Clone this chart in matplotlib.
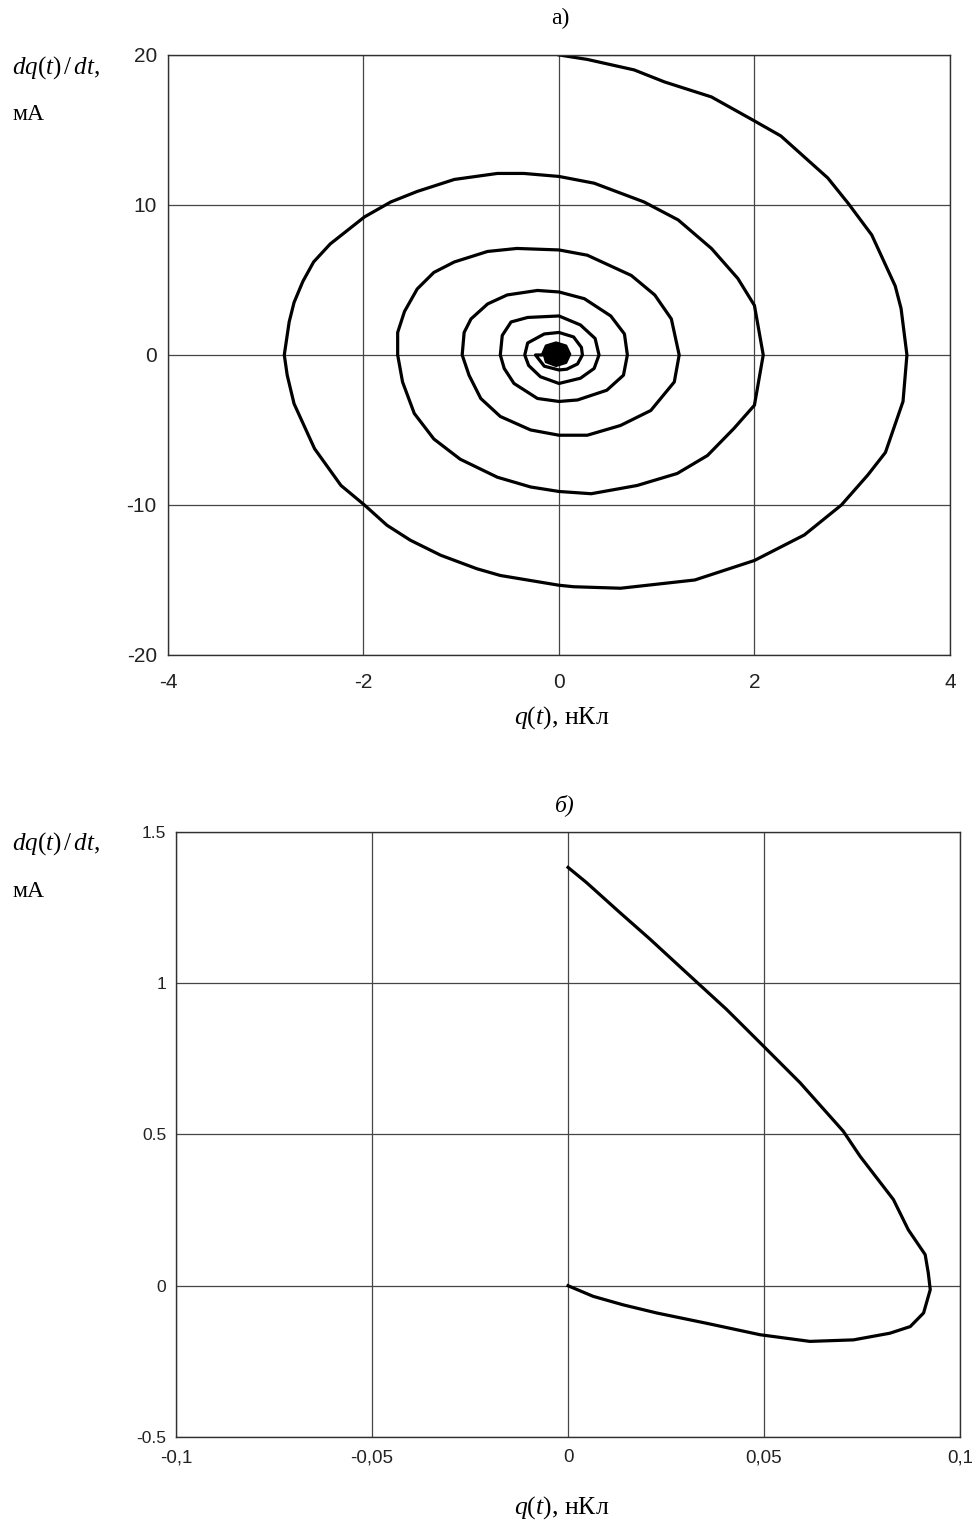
import matplotlib

matplotlib.use("Agg")

import matplotlib.pyplot as plt

# panel a) phase trajectory, q in nC, dq/dt in mA (read off the picture)
q_a = [
    0.00, 0.29, 0.77, 1.08, 1.56, 2.00, 2.27, 2.51, 2.75, 2.96, 3.20, 3.44, 3.50, 3.56,
    3.52, 3.34, 3.16, 2.89, 2.51, 2.00, 1.39, 0.97, 0.63, 0.15, 0.00,
    -0.60, -0.84, -1.21, -1.52, -1.76, -1.99, -2.23, -2.50, -2.71, -2.78, -2.81,
    -2.76, -2.71, -2.62, -2.51, -2.34, -1.99, -1.72, -1.45, -1.07, -0.63, -0.36, 0.00,
    0.36, 0.87, 1.22, 1.56, 1.83, 2.00, 2.09,
    2.00, 1.79, 1.52, 1.21, 0.80, 0.33, 0.00,
    -0.29, -0.63, -1.01, -1.28, -1.48, -1.60, -1.65,
    -1.65, -1.58, -1.45, -1.28, -1.07, -0.73, -0.43, 0.00,
    0.29, 0.74, 0.98, 1.15, 1.23,
    1.18, 0.94, 0.63, 0.29, 0.00,
    -0.29, -0.60, -0.80, -0.92, -0.99,
    -0.97, -0.90, -0.73, -0.53, -0.22, 0.00,
    0.26, 0.53, 0.67, 0.70,
    0.66, 0.49, 0.19, 0.00,
    -0.22, -0.46, -0.56, -0.60,
    -0.58, -0.49, -0.32, 0.00,
    0.22, 0.37, 0.41,
    0.36, 0.22, 0.00,
    -0.19, -0.31, -0.35,
    -0.32, -0.15, 0.00, 0.15, 0.23, 0.24, 0.19, 0.08, 0.00, -0.15, -0.24,
    # dense inner turns that merge into the black spot
    -0.17, -0.13, -0.03, 0.07, 0.11, 0.07, -0.03, -0.13,
    -0.15, -0.11, -0.03, 0.05, 0.08, 0.05, -0.03, -0.11,
    -0.12, -0.09, -0.03, 0.03, 0.05, 0.03, -0.03, -0.09,
    -0.09, -0.07, -0.03, 0.01, 0.02, 0.01, -0.03, -0.07,
    -0.06, -0.05, -0.03, -0.01, 0.00, -0.01, -0.03, -0.05, -0.03,
]
i_a = [
    20.0, 19.7, 19.0, 18.2, 17.2, 15.6, 14.6, 13.2, 11.8, 10.1, 8.0, 4.6, 3.1, 0.0,
    -3.1, -6.5, -8.0, -10.0, -12.0, -13.7, -15.0, -15.3, -15.55, -15.45, -15.35,
    -14.7, -14.25, -13.35, -12.35, -11.35, -10.0, -8.7, -6.25, -3.25, -1.35, 0.0,
    2.2, 3.5, 4.9, 6.2, 7.4, 9.2, 10.2, 10.9, 11.7, 12.1, 12.1, 11.9,
    11.45, 10.2, 9.0, 7.1, 5.1, 3.3, 0.0,
    -3.35, -4.9, -6.7, -7.9, -8.7, -9.25, -9.1,
    -8.8, -8.15, -6.95, -5.6, -3.9, -1.8, 0.0,
    1.5, 2.9, 4.4, 5.5, 6.2, 6.9, 7.1, 7.0,
    6.65, 5.3, 4.0, 2.4, 0.0,
    -1.8, -3.7, -4.7, -5.35, -5.35,
    -5.0, -4.1, -2.9, -1.35, 0.0,
    1.5, 2.4, 3.4, 4.0, 4.3, 4.2,
    3.75, 2.6, 1.4, 0.0,
    -1.35, -2.35, -3.0, -3.1,
    -2.9, -1.9, -0.9, 0.0,
    1.3, 2.2, 2.5, 2.6,
    2.0, 1.1, 0.0,
    -0.9, -1.55, -1.9,
    -1.45, -0.7, 0.0,
    0.8, 1.4, 1.5, 1.2, 0.5, 0.0, -0.6, -0.95, -1.0, -0.75, 0.0,
    0.0, 0.6, 0.8, 0.6, 0.05, -0.5, -0.7, -0.45,
    0.05, 0.5, 0.65, 0.5, 0.05, -0.4, -0.55, -0.35,
    0.05, 0.4, 0.5, 0.4, 0.05, -0.3, -0.4, -0.25,
    0.05, 0.3, 0.35, 0.3, 0.05, -0.2, -0.25, -0.15,
    0.05, 0.2, 0.22, 0.18, 0.05, -0.1, -0.12, -0.05, 0.05,
]

# panel б) trajectory
q_b = [
    0.0, 0.0047, 0.0132, 0.0209, 0.0302, 0.0404, 0.0494, 0.0592, 0.0702, 0.0745,
    0.0830, 0.0868, 0.0911, 0.0919, 0.0924, 0.0907, 0.0873, 0.0821, 0.0728, 0.0617,
    0.0490, 0.0353, 0.0226, 0.0140, 0.0064, 0.0,
]
i_b = [
    1.383, 1.333, 1.234, 1.146, 1.035, 0.914, 0.798, 0.671, 0.511, 0.428,
    0.285, 0.185, 0.103, 0.042, -0.013, -0.090, -0.135, -0.157, -0.179, -0.184,
    -0.162, -0.124, -0.090, -0.063, -0.035, 0.0,
]

xticks_a = [-4, -2, 0, 2, 4]
yticks_a = [-20, -10, 0, 10, 20]
xticks_b = [-0.1, -0.05, 0, 0.05, 0.1]
xlabels_b = ["-0,1", "-0,05", "0", "0,05", "0,1"]
yticks_b = [-0.5, 0, 0.5, 1, 1.5]
ylabels_b = ["-0.5", "0", "0.5", "1", "1.5"]

plt.rcParams["mathtext.fontset"] = "custom"
plt.rcParams["mathtext.rm"] = "Liberation Serif"
plt.rcParams["mathtext.it"] = "Liberation Serif:italic"

SANS = ["Liberation Sans", "DejaVu Sans"]
SERIF = ["Liberation Serif", "DejaVu Serif"]
GRID = "#454545"

fig = plt.figure(figsize=(9.72, 15.3), dpi=100)
ax_a = fig.add_axes([0.1728, 0.5719, 0.8045, 0.3922])
ax_b = fig.add_axes([0.1811, 0.0608, 0.8066, 0.3954])


def style(ax):
    ax.grid(True, color=GRID, linewidth=0.9)
    ax.tick_params(length=0)
    for s in ax.spines.values():
        s.set_color("#303030")
        s.set_linewidth(1.0)


ax_a.plot(q_a, i_a, color="black", linewidth=2.3, solid_joinstyle="round")
ax_a.set_xlim(-4, 4)
ax_a.set_ylim(-20, 20)
ax_a.set_xticks(xticks_a)
ax_a.set_yticks(yticks_a)
ax_a.set_xticklabels([str(v) for v in xticks_a], family=SANS, fontsize=15, color="#222222")
ax_a.set_yticklabels([str(v) for v in yticks_a], family=SANS, fontsize=15, color="#222222")
ax_a.tick_params(axis="x", pad=13)
ax_a.tick_params(axis="y", pad=8)
style(ax_a)

ax_b.plot(q_b, i_b, color="black", linewidth=2.3, solid_joinstyle="round")
ax_b.set_xlim(-0.1, 0.1)
ax_b.set_ylim(-0.5, 1.5)
ax_b.set_xticks(xticks_b)
ax_b.set_yticks(yticks_b)
ax_b.set_xticklabels(xlabels_b, family=SANS, fontsize=13.5, color="#222222")
ax_b.set_yticklabels(ylabels_b, family=SANS, fontsize=12.5, color="#222222")
ax_b.tick_params(axis="x", pad=9)
ax_b.tick_params(axis="y", pad=7)
style(ax_b)

# titles and axis captions
fig.text(560 / 972, 1 - 18 / 1530, "а)", family=SERIF, fontsize=17, ha="center", va="center")
fig.text(565 / 972, 1 - 805 / 1530, "б)", family=SERIF, style="italic", fontsize=17,
         ha="center", va="center")

ylab = r"$dq(t)\,/\,dt$,"
for yc, yu in [(68, 115), (844, 891)]:
    fig.text(12 / 972, 1 - yc / 1530, ylab, family=SERIF, fontsize=18, ha="left", va="center")
    fig.text(12 / 972, 1 - yu / 1530, "мА", family=SERIF, fontsize=17, ha="left", va="center")

xlab = r"$q(t)$, нКл"
for yx in (718, 1508):
    fig.text(562 / 972, 1 - yx / 1530, xlab, family=SERIF, fontsize=18.5, ha="center", va="center")

fig.savefig("out.png", dpi=100, facecolor="white")
